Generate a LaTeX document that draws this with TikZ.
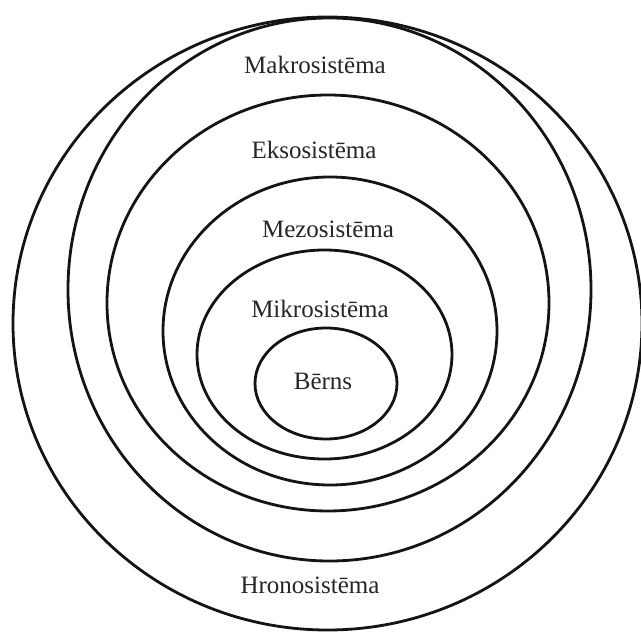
\documentclass[tikz,border=0pt]{standalone}
\usepackage{fontspec}
\setmainfont{Liberation Serif}
\begin{document}
\begin{tikzpicture}[x=1pt,y=-1pt,
  ring/.style={draw=black!92, line width=2.8pt},
  lbl/.style={font=\fontsize{25}{30}\selectfont, text=black!85, anchor=base, inner sep=0pt}]
\useasboundingbox (0,0) rectangle (641,632);
\fill[white] (0,0) rectangle (641,632);
% Hronosistema (outermost)
\draw[ring] (327.5,323.5) ellipse [x radius=314.5pt, y radius=306.5pt];
% Makrosistema
\draw[ring] (329.5,289.5) ellipse [x radius=261.5pt, y radius=271.5pt];
% Eksosistema
\draw[ring] (328,303) ellipse [x radius=221pt, y radius=208pt];
% Mezosistema
\draw[ring] (330,331) ellipse [x radius=167pt, y radius=154pt];
% Mikrosistema
\draw[ring] (324.5,354.5) ellipse [x radius=127.5pt, y radius=104.5pt];
% Berns
\draw[ring] (326,383.5) ellipse [x radius=71pt, y radius=55.5pt];
\node[lbl] (makro) at (315,73) {Makrosistēma};
\node[lbl] (ekso) at (314,158) {Eksosistēma};
\node[lbl] (mezo) at (328,237) {Mezosistēma};
\node[lbl] (mikro) at (320,317) {Mikrosistēma};
\node[lbl] (berns) at (323,389) {Bērns};
\node[lbl] (hrono) at (310,593) {Hronosistēma};
\end{tikzpicture}
\end{document}
